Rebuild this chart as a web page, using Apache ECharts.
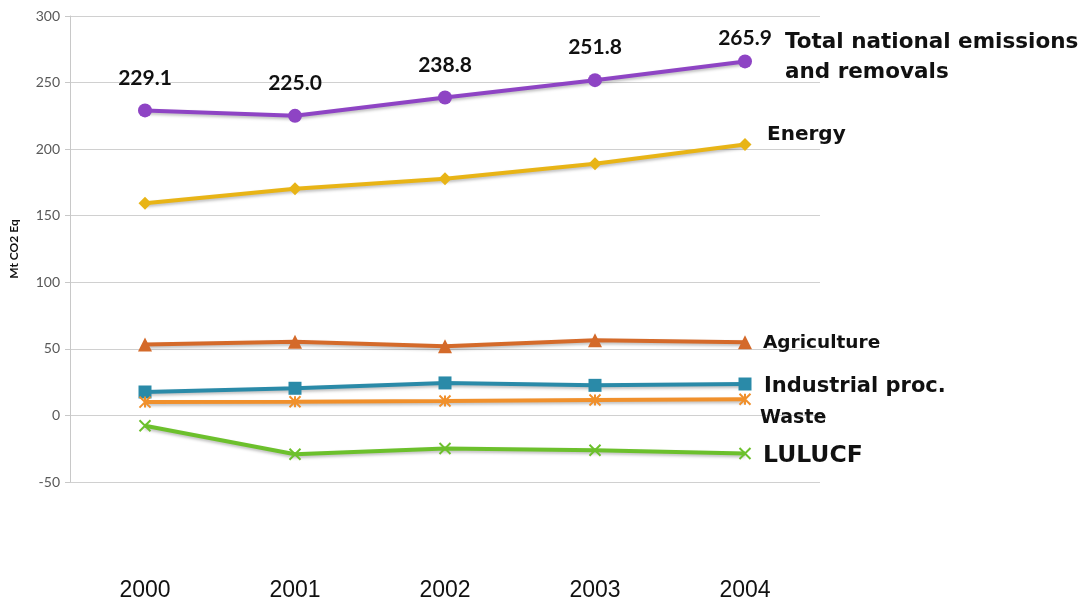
<!DOCTYPE html>
<html>
<head>
<meta charset="utf-8">
<script src="https://cdn.jsdelivr.net/npm/echarts@6/dist/echarts.min.js"></script>
<style>
  html, body { margin: 0; padding: 0; background: #fff; }
  #chart { width: 1088px; height: 600px; }
</style>
</head>
<body>
<div id="chart"></div>
<script>
// values (Mt CO2 Eq)
var years = ['2000', '2001', '2002', '2003', '2004']
var totalValues = [229.1, 225.0, 238.8, 251.8, 265.9]
var energyValues = [159.4, 170.2, 177.7, 189.0, 203.5]
var agricultureValues = [53.3, 55.3, 52.0, 56.5, 55.0]
var industrialValues = [17.6, 20.4, 24.4, 22.6, 23.6]
var wasteValues = [10.0, 10.3, 10.8, 11.6, 12.1]
var lulucfValues = [-7.8, -29.1, -24.9, -26.1, -28.6]
var yTicks = [-50, 0, 50, 100, 150, 200, 250, 300]

var labelFont = 'Lato, "Open Sans", sans-serif'
var nameFont = '"DejaVu Sans", Verdana, sans-serif'
var starPath = 'path://M0,0L10,10M10,0L0,10M5,0L5,10'
var crossPath = 'path://M0,0L10,10M10,0L0,10'

var lineShadow = {
  shadowBlur: 3,
  shadowColor: 'rgba(0,0,0,0.25)',
  shadowOffsetY: 2
}

function makeSeries (name, values, color, symbol, size, endText, endFont, endOffset, stroked) {
  return {
    name: name,
    type: 'line',
    data: values,
    symbol: symbol,
    symbolSize: size,
    lineStyle: Object.assign({ color: color, width: 4 }, lineShadow),
    itemStyle: {
      color: stroked ? 'rgba(0,0,0,0)' : color,
      borderColor: color,
      borderWidth: stroked ? 2 : 0
    },
    endLabel: {
      show: true,
      formatter: endText,
      fontFamily: nameFont,
      fontWeight: 'bold',
      fontSize: endFont,
      lineHeight: 30,
      color: '#111',
      distance: 0,
      offset: endOffset
    },
    z: 3
  }
}

var chart = echarts.init(document.getElementById('chart'))

var totalSeries = makeSeries('Total', totalValues.map(function (v, i) {
  if (i === totalValues.length - 1) {
    return { value: v, label: { distance: 6 } }
  }
  return v
}), '#8e44c4', 'circle', 14, 'Total national emissions\nand removals', 21.5, [40, -4], false)
totalSeries.label = {
  show: true,
  position: 'top',
  distance: 15,
  fontFamily: labelFont,
  fontWeight: 'bold',
  fontSize: 21,
  color: '#111',
  formatter: function (p) { return p.value.toFixed(1) }
}

chart.setOption({
  animation: false,
  backgroundColor: '#fff',
  grid: {
    left: 70,
    right: 268,
    top: 16,
    bottom: 118,
    outerBoundsMode: 'none'
  },
  xAxis: {
    type: 'category',
    data: years,
    boundaryGap: true,
    axisLine: { show: false },
    axisTick: { show: false },
    axisLabel: {
      margin: 97,
      fontFamily: '"Liberation Sans", Arial, sans-serif',
      fontSize: 23,
      color: '#111'
    }
  },
  yAxis: {
    type: 'value',
    min: yTicks[0],
    max: yTicks[yTicks.length - 1],
    interval: 50,
    name: 'Mt CO2 Eq',
    nameLocation: 'middle',
    nameRotate: 90,
    nameGap: 50,
    nameTextStyle: {
      fontFamily: labelFont,
      fontWeight: 'bold',
      fontSize: 12,
      color: '#111'
    },
    axisLine: { show: true, lineStyle: { color: '#c8c8c8', width: 1 } },
    axisTick: { show: true, inside: false, length: 5, lineStyle: { color: '#c8c8c8' } },
    splitLine: { lineStyle: { color: '#d0d0d0', width: 1 } },
    axisLabel: {
      margin: 10,
      fontFamily: labelFont,
      fontSize: 14,
      color: '#595959'
    }
  },
  series: [
    totalSeries,
    makeSeries('Energy', energyValues, '#e8b416', 'diamond', 13, 'Energy', 20, [22, -10], false),
    makeSeries('Agriculture', agricultureValues, '#d46a2a', 'triangle', 14, 'Agriculture', 18.5, [18, 1], false),
    makeSeries('Industrial proc.', industrialValues, '#2a8aa8', 'rect', 13, 'Industrial proc.', 21, [19, 3], false),
    makeSeries('Waste', wasteValues, '#f0902c', starPath, 11, 'Waste', 19, [15, 19], true),
    makeSeries('LULUCF', lulucfValues, '#6cc02c', crossPath, 11, 'LULUCF', 23.5, [18, 2], true)
  ]
})
</script>
</body>
</html>
